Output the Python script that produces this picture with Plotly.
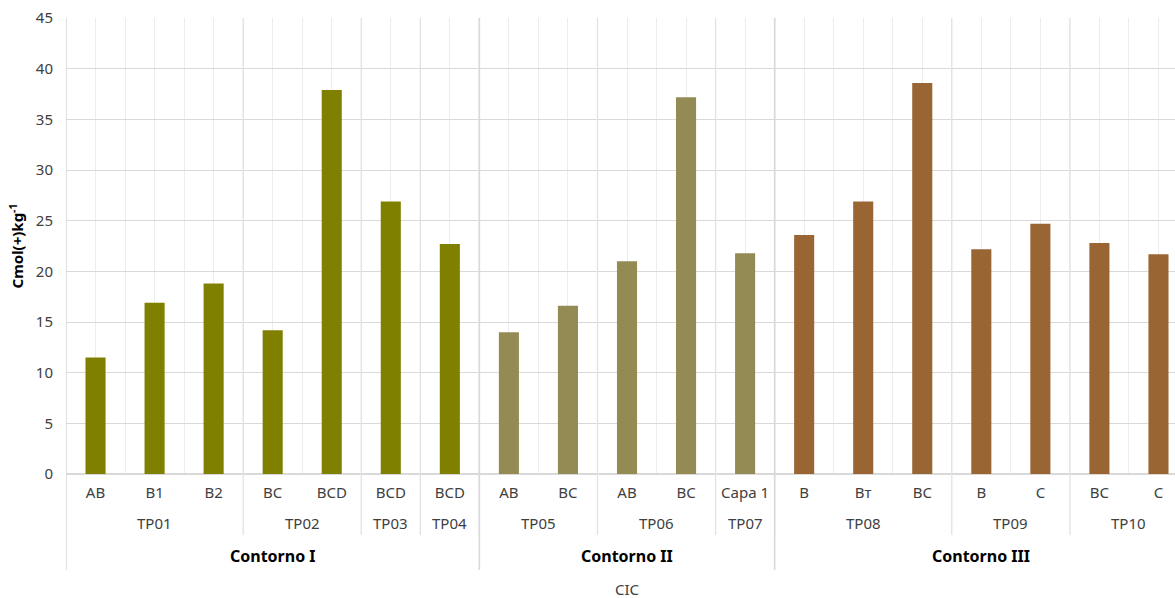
import plotly.graph_objects as go

# horizons, profiles (TP) and landscape units (Contorno)
horizons = ["AB", "B1", "B2", "BC", "BCD", "BCD", "BCD",
            "AB", "BC", "AB", "BC", "Capa 1",
            "B", "Bт", "BC", "B", "C", "BC", "C"]
profiles = ["TP01", "TP01", "TP01", "TP02", "TP02", "TP03", "TP04",
            "TP05", "TP05", "TP06", "TP06", "TP07",
            "TP08", "TP08", "TP08", "TP09", "TP09", "TP10", "TP10"]
contornos = ["Contorno I"] * 7 + ["Contorno II"] * 5 + ["Contorno III"] * 7
cic = [11.5, 16.9, 18.8, 14.2, 37.9, 26.9, 22.7,
       14.0, 16.6, 21.0, 37.2, 21.8,
       23.6, 26.9, 38.6, 22.2, 24.7, 22.8, 21.7]

COLOR_MAP = {
    "Contorno I": "#808000",
    "Contorno II": "#948B54",
    "Contorno III": "#996633",
}

FONT = "Noto Sans"
TXT = "#404040"
GRID = "#ececec"
SEP = "#d9d9d9"

xs = list(range(len(cic)))

fig = go.Figure(go.Bar(
    x=xs, y=cic,
    width=0.34,
    marker=dict(color=[COLOR_MAP[c] for c in contornos], line=dict(width=0)),
    showlegend=False,
))


def groups(labels):
    # contiguous runs -> (label, first, last)
    out = []
    start = 0
    for i in range(1, len(labels) + 1):
        if i == len(labels) or labels[i] != labels[start]:
            out.append((labels[start], start, i - 1))
            start = i
    return out


shapes = []
annotations = []

# y paper positions for the label area below the axis (plot height 456 px)
PH = 456.0
def py(px_below):
    return -px_below / PH

# profile labels + separators
for name, a, b in groups(profiles):
    annotations.append(dict(x=(a + b) / 2, y=py(49), xref="x", yref="paper",
                            yanchor="middle", text=name, showarrow=False,
                            font=dict(size=15, color=TXT, family=FONT)))
    if b < len(cic) - 1:
        shapes.append(dict(type="line", xref="x", yref="paper",
                           x0=b + 0.5, x1=b + 0.5, y0=py(61), y1=1,
                           line=dict(color="#e2e2e2", width=1.3)))

# contorno labels + separators
for name, a, b in groups(contornos):
    annotations.append(dict(x=(a + b) / 2, y=py(82), xref="x", yref="paper",
                            yanchor="middle", text="<b>" + name + "</b>",
                            showarrow=False,
                            font=dict(size=16, color="#000000", family=FONT)))
    if b < len(cic) - 1:
        shapes.append(dict(type="line", xref="x", yref="paper",
                           x0=b + 0.5, x1=b + 0.5, y0=py(96), y1=1,
                           line=dict(color=SEP, width=1.6)))

# left edge of the category table
shapes.append(dict(type="line", xref="x", yref="paper",
                   x0=-0.5, x1=-0.5, y0=py(96), y1=1,
                   line=dict(color=SEP, width=1.6)))

# series name under the axis
annotations.append(dict(x=(len(cic) - 1) / 2, y=py(115), xref="x", yref="paper",
                        yanchor="middle", text="CIC", showarrow=False,
                        font=dict(size=15, color=TXT, family=FONT)))

# the reference plot area runs a little past the right edge of the window
fig.update_layout(
    width=1188, height=598,
    margin=dict(l=66, r=0, t=18, b=124),
    paper_bgcolor="white", plot_bgcolor="white",
    font=dict(family=FONT, size=15, color=TXT),
    shapes=shapes,
    annotations=annotations,
)

fig.update_xaxes(
    automargin=False,
    range=[-0.5, len(cic) - 0.5],
    tickmode="array", tickvals=xs, ticktext=horizons,
    showgrid=True, gridcolor=GRID, gridwidth=1,
    minor=dict(tickmode="linear", tick0=0.5, dtick=1, showgrid=True,
               gridcolor=GRID, gridwidth=1),
    ticks="", showline=False, zeroline=False,
    tickfont=dict(size=15, color=TXT, family=FONT),
    ticklabelstandoff=8,
)

fig.update_yaxes(
    automargin=False,
    range=[0, 45.02], tickmode="linear", tick0=0, dtick=5,
    showgrid=True, gridcolor=SEP, gridwidth=1.3,
    zeroline=True, zerolinecolor=SEP, zerolinewidth=1.6,
    ticks="", showline=False,
    tickfont=dict(size=15, color=TXT, family=FONT),
    ticklabelstandoff=12,
    title=dict(text="<b>Cmol(+)kg<sup>-1</sup></b>",
               font=dict(size=15, color="#000000", family=FONT), standoff=8),
)

# drop the default 8px body margin so the figure sits at the window corner
fig.write_html("out.html",
               config={"displayModeBar": False},
               post_script="document.body.style.margin='0';"
                           "document.body.style.overflow='hidden';")
